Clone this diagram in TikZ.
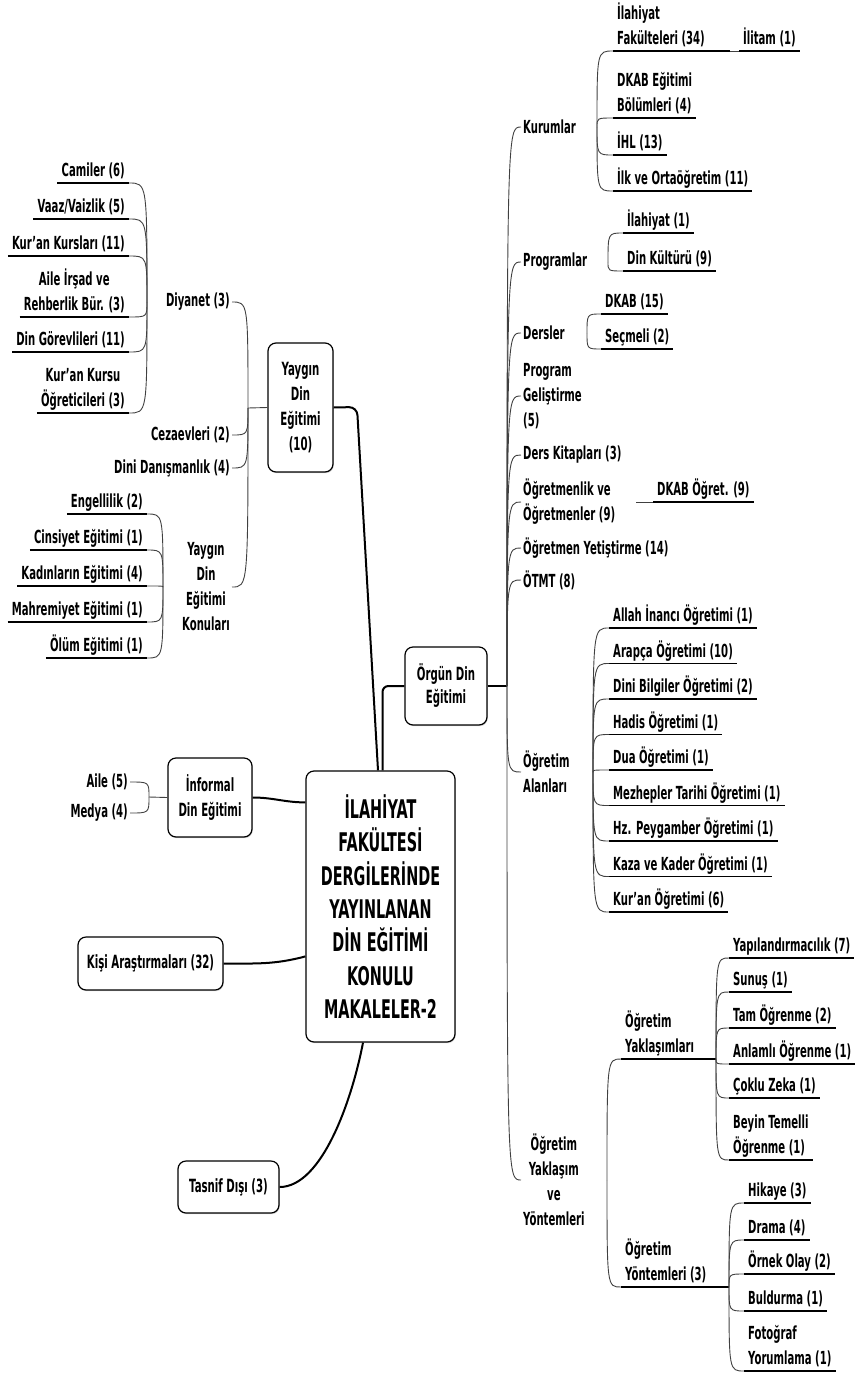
\documentclass[tikz,border=0pt]{standalone}
\usepackage{fontspec}
\setmainfont{DejaVu Sans}[FakeStretch=0.56]
\usetikzlibrary{positioning, shadows}

\newcommand\lblfont{\fontsize{18}{25}\selectfont\bfseries}
\newcommand\boxfont{\fontsize{18.2}{25}\selectfont\bfseries}
\newcommand\ttlfont{\fontsize{25.7}{33.4}\selectfont\bfseries}

\begin{document}
\begin{tikzpicture}[x=1pt, y=-1pt,
    lbl/.style={font=\lblfont, inner xsep=2pt, inner ysep=1pt, align=left},
    leaf/.style={font=\lblfont, inner xsep=4pt, inner ysep=2pt, text depth=4pt, align=left},
    leafl/.style={leaf, align=center},
    topic/.style={draw, rounded corners=8pt, line width=1.2pt, font=\boxfont, align=center,
        inner sep=2pt, fill=white, drop shadow={opacity=0.3, shadow xshift=0.8pt, shadow yshift=-1.2pt}},
    link/.style={line width=0.9pt, black!75},
    uline/.style={line width=1.3pt},
    main/.style={line width=2pt}]

    \useasboundingbox (0,0) rectangle (854,1373);

    % --- CENTER: title and main topics ---
    \node[topic, font=\ttlfont, minimum width=149pt, minimum height=271pt] (ctr) at (380.5,906.5)
        {İLAHİYAT\\FAKÜLTESİ\\DERGİLERİNDE\\YAYINLANAN\\DİN EĞİTİMİ\\KONULU\\MAKALELER-2};
    \node[topic, minimum width=65pt, minimum height=129pt] (yay) at (300.5,407.5) {Yaygın\\Din\\Eğitimi\\(10)};
    \node[topic, font=\fontsize{18.2}{23}\selectfont\bfseries, minimum width=82pt, minimum height=78pt] (org) at (446,686) {Örgün Din\\Eğitimi};
    \node[topic, minimum width=84pt, minimum height=79pt] (inf) at (210,797.5) {İnformal\\Din Eğitimi};
    \node[topic, minimum width=145pt, minimum height=53pt] (kis) at (150.5,963.5) {Kişi Araştırmaları (32)};
    \node[topic, minimum width=101pt, minimum height=52pt] (tas) at (228.5,1187) {Tasnif Dışı (3)};

    % Main branches
    \draw[main, rounded corners=8pt] (yay.east) -- (357,407) -- ([xshift=-2.5pt]ctr.north);
    \draw[main, rounded corners=6pt] ([xshift=2pt]ctr.north) |- (org.west);
    \draw[main] (inf.east) to[out=0, in=180] ([yshift=-32pt]ctr.north west);
    \draw[main] (kis.east) to[out=0, in=195] ([yshift=-186pt]ctr.north west);
    \draw[main] (tas.east) .. controls (322,1187) and (352,1100) .. ([xshift=-17.5pt]ctr.south);

    % --- RIGHT: Örgün Din Eğitimi ---
    \coordinate (tp) at (507,686);
    \draw[main] (org.east) -- (tp);
    \node[lbl, anchor=west] (kur) at (521,127) {Kurumlar};
    \node[lbl, anchor=west] (prg) at (521,262) {Programlar};
    \node[lbl, anchor=west] (drs) at (521,333) {Dersler};
    \node[lbl, anchor=west] (pgl) at (521,396) {Program\\Geliştirme\\(5)};
    \node[lbl, anchor=west] (dkt) at (521,455) {Ders Kitapları (3)};
    \node[lbl, anchor=west] (ogm) at (521,502) {Öğretmenlik ve\\Öğretmenler (9)};
    \node[lbl, anchor=west] (oyt) at (521,548) {Öğretmen Yetiştirme (14)};
    \node[lbl, anchor=west] (otm) at (521,580) {ÖTMT (8)};
    \node[lbl, anchor=west] (oal) at (521,772) {Öğretim\\Alanları};
    \node[lbl, anchor=west, align=center] (oyy) at (521,1180) {Öğretim\\Yaklaşım\\ve\\Yöntemleri};
    \foreach \n in {kur,prg,drs,pgl,dkt,ogm,oyt,otm,oal,oyy}
        \draw[link] (tp) .. controls (tp |- \n.west) .. (\n.west);

    % Kurumlar
    \coordinate (kurp) at (597,127);
    \node[leaf, anchor=south west] (k1) at (613,51) {İlahiyat\\Fakülteleri (34)};
    \node[leaf, anchor=south west] (k2) at (613,118) {DKAB Eğitimi\\Bölümleri (4)};
    \node[leaf, anchor=south west] (k3) at (613,155) {İHL (13)};
    \node[leaf, anchor=south west] (k4) at (613,191) {İlk ve Ortaöğretim (11)};
    \foreach \i in {1,...,4} {
        \draw[uline] (k\i.south west) -- (k\i.south east);
        \draw[link] (kurp) .. controls (kurp |- k\i.south west) .. (k\i.south west);
    }
    \node[leaf, anchor=south west] (k5) at (739,51) {İlitam (1)};
    \draw[uline] (k1.south east) -- (730,51);
    \draw[link] (730,51) -- (k5.south west);
    \draw[uline] (k5.south west) -- (k5.south east);

    % Programlar
    \coordinate (prgp) at (608,262);
    \node[leaf, anchor=south west] (p1) at (623,233) {İlahiyat (1)};
    \node[leaf, anchor=south west] (p2) at (623,271) {Din Kültürü (9)};
    \foreach \i in {1,2} {
        \draw[uline] (p\i.south west) -- (p\i.south east);
        \draw[link] (prgp) .. controls (prgp |- p\i.south west) .. (p\i.south west);
    }

    % Dersler
    \coordinate (drsp) at (587,333);
    \node[leaf, anchor=south west] (d1) at (601,314) {DKAB (15)};
    \node[leaf, anchor=south west] (d2) at (601,349) {Seçmeli (2)};
    \foreach \i in {1,2} {
        \draw[uline] (d\i.south west) -- (d\i.south east);
        \draw[link] (drsp) .. controls (drsp |- d\i.south west) .. (d\i.south west);
    }

    % Öğretmenlik ve Öğretmenler
    \coordinate (ogmp) at (636,502);
    \node[leaf, anchor=south west] (g1) at (653,502) {DKAB Öğret. (9)};
    \draw[link] (ogmp) -- (g1.south west);
    \draw[uline] (g1.south west) -- (g1.south east);

    % Öğretim Alanları
    \coordinate (oalp) at (593,772);
    \foreach \t [count=\i] in {Allah İnancı Öğretimi (1), Arapça Öğretimi (10), Dini Bilgiler Öğretimi (2),
        Hadis Öğretimi (1), Dua Öğretimi (1), Mezhepler Tarihi Öğretimi (1), Hz. Peygamber Öğretimi (1),
        Kaza ve Kader Öğretimi (1), Kur'an Öğretimi (6)} {
        \node[leaf, anchor=south west] (a\i) at (609,{628+35.5*(\i-1)}) {\t};
        \draw[uline] (a\i.south west) -- (a\i.south east);
        \draw[link] (oalp) .. controls (oalp |- a\i.south west) .. (a\i.south west);
    }

    % Öğretim Yaklaşım ve Yöntemleri
    \coordinate (oyyp) at (607,1180);
    \coordinate (yakp) at (716,1059);
    \coordinate (yonp) at (729,1287);
    \node[leaf, anchor=south west] (y1) at (621,1059) {Öğretim\\Yaklaşımları};
    \node[leaf, anchor=south west] (y2) at (621,1287) {Öğretim\\Yöntemleri (3)};
    \draw[uline] (y1.south west) -- (yakp);
    \draw[uline] (y2.south west) -- (yonp);
    \foreach \i in {1,2}
        \draw[link] (oyyp) .. controls (oyyp |- y\i.south west) .. (y\i.south west);

    \foreach \t/\y [count=\i] in {Yapılandırmacılık (7)/958, Sunuş (1)/992, Tam Öğrenme (2)/1028,
        Anlamlı Öğrenme (1)/1064, Çoklu Zeka (1)/1098, Beyin Temelli\\Öğrenme (1)/1160} {
        \node[leaf, anchor=south west] (r\i) at (729,\y) {\t};
        \draw[uline] (r\i.south west) -- (r\i.south east);
        \draw[link] (yakp) .. controls (yakp |- r\i.south west) .. (r\i.south west);
    }
    \foreach \t/\y [count=\i] in {Hikaye (3)/1203, Drama (4)/1240, Örnek Olay (2)/1274,
        Buldurma (1)/1311, Fotoğraf\\Yorumlama (1)/1371} {
        \node[leaf, anchor=south west] (m\i) at (744,\y) {\t};
        \draw[uline] (m\i.south west) -- (m\i.south east);
        \draw[link] (yonp) .. controls (yonp |- m\i.south west) .. (m\i.south west);
    }

    % --- LEFT: Yaygın Din Eğitimi ---
    \coordinate (yayp) at (248,408);
    \draw[link] (yay.west) -- (yayp);
    \node[lbl, anchor=east] (diy) at (232,302) {Diyanet (3)};
    \node[lbl, anchor=east] (cez) at (232,435) {Cezaevleri (2)};
    \node[lbl, anchor=east] (dan) at (232,468) {Dini Danışmanlık (4)};
    \node[lbl, anchor=east, align=center] (ydk) at (232,587) {Yaygın\\Din\\Eğitimi\\Konuları};
    \foreach \n in {diy,cez,dan,ydk}
        \draw[link] (yayp) .. controls (yayp |- \n.east) .. (\n.east);

    % Diyanet
    \coordinate (diyp) at (147,302);
    \node[leafl, anchor=south east] (c1) at (129,183) {Camiler (6)};
    \node[leafl, anchor=south east] (c2) at (129,219) {Vaaz/Vaizlik (5)};
    \node[leafl, anchor=south east] (c3) at (129,256) {Kur'an Kursları (11)};
    \node[leafl, anchor=south east] (c4) at (129,317) {Aile İrşad ve\\Rehberlik Bür. (3)};
    \node[leafl, anchor=south east] (c5) at (129,352) {Din Görevlileri (11)};
    \node[leafl, anchor=south east] (c6) at (129,413) {Kur'an Kursu\\Öğreticileri (3)};
    \foreach \i in {1,...,6} {
        \draw[uline] (c\i.south west) -- (c\i.south east);
        \draw[link] (diyp) .. controls (diyp |- c\i.south east) .. (c\i.south east);
    }

    % Yaygın Din Eğitimi Konuları
    \coordinate (ydkp) at (163,587);
    \foreach \t/\y [count=\i] in {Engellilik (2)/514, Cinsiyet Eğitimi (1)/550, Kadınların Eğitimi (4)/586,
        Mahremiyet Eğitimi (1)/622, Ölüm Eğitimi (1)/658} {
        \node[leafl, anchor=south east] (e\i) at (147,\y) {\t};
        \draw[uline] (e\i.south west) -- (e\i.south east);
        \draw[link] (ydkp) .. controls (ydkp |- e\i.south east) .. (e\i.south east);
    }

    % --- LEFT: İnformal Din Eğitimi ---
    \coordinate (infp) at (149,797);
    \draw[link] (inf.west) -- (infp);
    \node[lbl, anchor=east] (ail) at (130,782) {Aile (5)};
    \node[lbl, anchor=east] (med) at (130,813) {Medya (4)};
    \foreach \n in {ail,med}
        \draw[link] (infp) .. controls (infp |- \n.east) .. (\n.east);

\end{tikzpicture}
\end{document}
